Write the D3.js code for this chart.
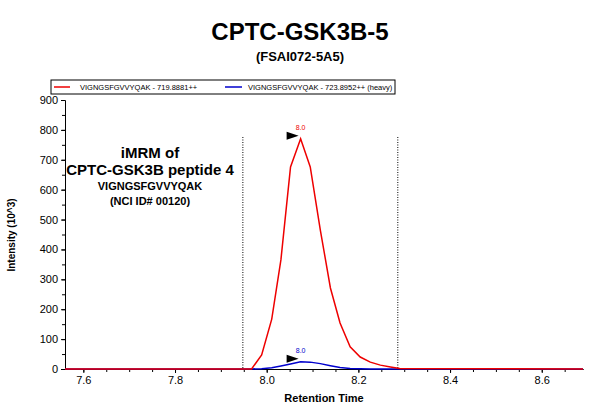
<!DOCTYPE html>
<html><head><meta charset="utf-8">
<script src="https://cdn.jsdelivr.net/npm/d3@7"></script>
<style>body{margin:0;background:#fff;font-family:Arial,"Liberation Sans",sans-serif}</style>
</head><body><div id="chart"></div>
<script>
const times = [7.90,7.925,7.945,7.967,7.989,8.011,8.031,8.052,8.074,8.095,8.117,8.139,8.160,8.182,8.204,8.226,8.248,8.270,8.29];
const lightValues = [0,0,0,0,47,167,365,676,770,676,465,271,154,74,40,23,13,7,2];
const heavyValues = [0,0,0,0,1,4,10,17,24,23,18,11,5,2,1,0,0,0,0];
const yTicks = [0,100,200,300,400,500,600,700,800,900];
const xTicks = [7.6,7.8,8.0,8.2,8.4,8.6];
const boundaries = [7.948,8.286];

const W=600,H=417;
const svg=d3.select("#chart").append("svg").attr("width",W).attr("height",H);
const x=d3.scaleLinear().domain([7.56,8.69]).range([65,583]);
const y=d3.scaleLinear().domain([0,900]).range([369,100]);

svg.append("text").attr("x",300).attr("y",40).attr("text-anchor","middle").attr("font-size",24).attr("font-weight","bold").text("CPTC-GSK3B-5");
svg.append("text").attr("x",300).attr("y",61).attr("text-anchor","middle").attr("font-size",13).attr("font-weight","bold").text("(FSAI072-5A5)");

// legend
svg.append("rect").attr("x",51).attr("y",80).attr("width",344).attr("height",14).attr("fill","#fff").attr("stroke","#000");
svg.append("line").attr("x1",54).attr("x2",70).attr("y1",87).attr("y2",87).attr("stroke","#e00").attr("stroke-width",1.5);
svg.append("text").attr("x",80).attr("y",90).attr("font-size",7.5).text("VIGNGSFGVVYQAK - 719.8881++");
svg.append("line").attr("x1",225).attr("x2",242).attr("y1",87).attr("y2",87).attr("stroke","#00c").attr("stroke-width",1.5);
svg.append("text").attr("x",248).attr("y",90).attr("font-size",7.5).text("VIGNGSFGVVYQAK - 723.8952++ (heavy)");

const gx=svg.append("g").attr("transform","translate(0,369)").call(d3.axisBottom(x).tickValues(xTicks).tickFormat(d3.format(".1f")).tickSize(4).tickSizeOuter(0));
gx.append("g").call(d3.axisBottom(x).tickValues(d3.range(7.6,8.7,0.05)).tickFormat("").tickSize(3).tickSizeOuter(0));
const gy=svg.append("g").attr("transform","translate(65,0)").call(d3.axisLeft(y).tickValues(yTicks).tickSize(4).tickSizeOuter(0));
gy.append("g").call(d3.axisLeft(y).tickValues(d3.range(0,901,50)).tickFormat("").tickSize(3).tickSizeOuter(0));
svg.selectAll(".tick text").attr("font-size",11).attr("fill","#000");
svg.selectAll(".domain").attr("stroke","#000");

svg.append("text").attr("transform","translate(15,235) rotate(-90)").attr("text-anchor","middle").attr("font-size",10).attr("font-weight","bold").text("Intensity (10^3)");
svg.append("text").attr("x",324).attr("y",402).attr("text-anchor","middle").attr("font-size",11).attr("font-weight","bold").text("Retention Time");

boundaries.forEach(b=>svg.append("line").attr("x1",x(b)).attr("x2",x(b)).attr("y1",137).attr("y2",369).attr("stroke","#000").attr("stroke-dasharray","1,1.5"));

const fullX=[7.56,...times,8.69];
const lineFull=d3.line().x((d,i)=>x(fullX[i])).y(d=>y(d));
svg.append("path").attr("d",lineFull([0,...heavyValues,0])).attr("fill","none").attr("stroke","#00c").attr("stroke-width",1.5);
svg.append("path").attr("d",lineFull([0,...lightValues,0])).attr("fill","none").attr("stroke","#e00").attr("stroke-width",1.5);

function apex(vals,color){
  const i=d3.maxIndex(vals);const px=x(times[i]),py=y(vals[i]);
  svg.append("path").attr("d",`M${px-14},${py-7}L${px-2},${py-3}L${px-14},${py+1}Z`).attr("fill","#000");
  svg.append("text").attr("x",px).attr("y",py-9).attr("text-anchor","middle").attr("font-size",7).attr("fill",color).text("8.0");
}
apex(lightValues,"#e00");apex(heavyValues,"#00c");

const ann=[["iMRM of",15,158],["CPTC-GSK3B peptide 4",15,175],["VIGNGSFGVVYQAK",11,190],["(NCI ID# 00120)",11,205]];
ann.forEach(a=>svg.append("text").attr("x",150).attr("y",a[2]).attr("text-anchor","middle").attr("font-size",a[1]).attr("font-weight","bold").text(a[0]));
</script></body></html>
